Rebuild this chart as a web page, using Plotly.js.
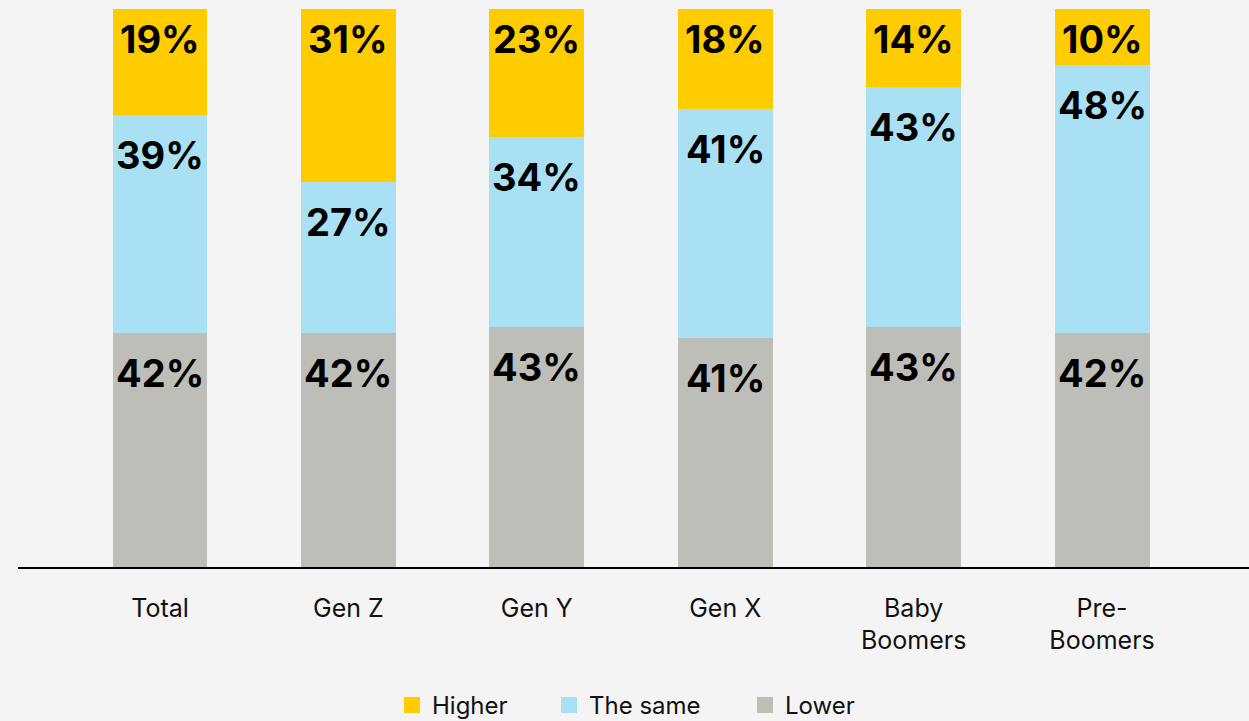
<!DOCTYPE html>
<html>
<head>
<meta charset="utf-8">
<script src="https://cdn.plot.ly/plotly-3.0.1.min.js"></script>
<style>
  html, body { margin: 0; padding: 0; background: #f4f4f4; }
  #chart { width: 1249px; height: 721px; }
</style>
</head>
<body>
<div id="chart"></div>
<script>
const categories = ["Total", "Gen Z", "Gen Y", "Gen X", "Baby<br>Boomers", "Pre-<br>Boomers"];
const lower = [42, 42, 43, 41, 43, 42];
const same = [39, 27, 34, 41, 43, 48];
const higher = [19, 31, 23, 18, 14, 10];
const seriesNames = ["Lower", "The same", "Higher"];

const colors = ["#BEBEB8", "#A9E0F3", "#FFCC00"];
const fontFamily = "Inter, 'Noto Sans', sans-serif";
const labelFont = { family: fontFamily, size: 38, color: "#000000", weight: 700 };
const series = [lower, same, higher];

const data = [];
series.forEach((vals, s) => {
  data.push({
    type: "bar",
    name: seriesNames[s],
    x: categories,
    y: vals,
    marker: { color: colors[s], line: { width: 0 } },
    showlegend: false,
    hoverinfo: "skip"
  });
});

// legend entries, each in its own legend box (Higher, The same, Lower from left)
const legendIds = ["legend", "legend2", "legend3"];
series.forEach((vals, s) => {
  data.push({
    type: "scatter",
    mode: "markers",
    name: seriesNames[s],
    x: [null],
    y: [null],
    legend: legendIds[s],
    marker: { symbol: "square", size: 19, color: colors[s] },
    hoverinfo: "skip"
  });
});

// labels near the top of each stacked segment
const annotations = [];
categories.forEach((c, i) => {
  let cum = 0;
  series.forEach((vals, s) => {
    cum += vals[i];
    annotations.push({
      x: c,
      y: cum,
      xref: "x",
      yref: "y",
      text: vals[i] + "%",
      showarrow: false,
      yanchor: "middle",
      xanchor: "center",
      yshift: s === 2 ? -30 : -40,
      font: labelFont
    });
  });
});

function legendBox(xpx) {
  return {
    orientation: "h",
    x: (xpx - 18) / 1231,
    xanchor: "left",
    y: -0.248,
    yanchor: "middle",
    font: { family: fontFamily, size: 24, color: "#111111" },
    itemwidth: 30,
    bgcolor: "rgba(0,0,0,0)"
  };
}

const layout = {
  width: 1249,
  height: 721,
  paper_bgcolor: "#f4f4f4",
  plot_bgcolor: "#f4f4f4",
  barmode: "stack",
  bargap: 0.496,
  margin: { l: 18, r: 0, t: 9, b: 154, autoexpand: false },
  font: { family: fontFamily, color: "#111111", size: 25 },
  annotations: annotations,
  xaxis: {
    type: "category",
    range: [-0.7537, 5.78],
    automargin: false,
    showline: true,
    linecolor: "#000000",
    linewidth: 1.5,
    ticks: "",
    ticklabelstandoff: 18,
    showgrid: false,
    zeroline: false,
    tickfont: { family: fontFamily, size: 25, color: "#111111" },
    fixedrange: true
  },
  yaxis: {
    range: [0, 100],
    visible: false,
    showgrid: false,
    zeroline: false,
    fixedrange: true
  },
  showlegend: true,
  legend: legendBox(745),
  legend2: legendBox(549),
  legend3: legendBox(392)
};

Plotly.newPlot("chart", data, layout, { displayModeBar: false, staticPlot: true });
</script>
</body>
</html>
